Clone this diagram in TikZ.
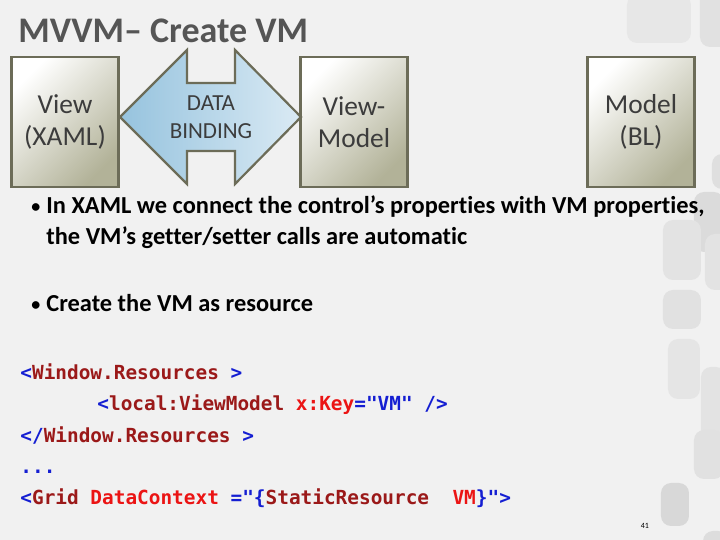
\documentclass[tikz,border=0pt]{standalone}
\usepackage{fontspec}
\setmainfont{Carlito}[RawFeature={-liga}]
\newfontfamily\codefont{DejaVu Sans Mono}

\definecolor{pagebg}{RGB}{241,241,241}
\definecolor{tilegray}{RGB}{200,200,200}
\definecolor{titlegray}{RGB}{85,85,85}
\definecolor{boxedge}{RGB}{108,108,88}
\definecolor{boxfill}{RGB}{178,178,152}
\definecolor{boxtext}{RGB}{60,60,60}
\definecolor{arrowleft}{RGB}{150,195,222}
\definecolor{arrowright}{RGB}{218,234,244}
\definecolor{codeblue}{RGB}{20,30,210}
\definecolor{codebrown}{RGB}{155,25,25}
\definecolor{codered}{RGB}{235,20,20}

\newcommand\xmlpunct[1]{\textcolor{codeblue}{#1}}
\newcommand\xmlelem[1]{\textcolor{codebrown}{#1}}
\newcommand\xmlattr[1]{\textcolor{codered}{#1}}

\begin{document}
\begin{tikzpicture}[x=0.5pt, y=-0.5pt,
  layerbox/.style={draw=boxedge, line width=1.1pt, minimum width=53.5pt, minimum height=65pt,
    align=center, text=boxtext, font=\fontsize{13.7}{16}\selectfont,
    top color=white, bottom color=boxfill, shading angle=45},
  bindarrow/.style={draw=boxedge, line width=1.1pt, left color=arrowleft, right color=arrowright},
  bullettext/.style={anchor=base west, inner sep=0pt, font=\fontsize{12.2}{14}\bfseries},
  bulletdot/.style={anchor=base west, inner sep=0pt, font=\fontsize{9}{10}\bfseries},
  codeline/.style={anchor=base west, inner sep=0pt, font=\fontsize{9.7}{12}\codefont\bfseries}]
\useasboundingbox (0,0) rectangle (720,540);
\fill[pagebg] (0,0) rectangle (720,540);
% tiles down the right edge
\foreach \tx/\ty/\tw/\th/\tg in {700/-10/30/57/40, 627/-5/64/48/25, 712/154/20/35/45,
    694/192/30/60/55, 663/220/38/60/35, 705/234/25/56/35, 663/290/38/39/40,
    668/339/32/60/30, 701/367/25/73/35, 694/430/30/49/40, 661/483/28/43/60, 703/531/25/20/50}
  \fill[tilegray!\tg!pagebg, rounded corners=5pt] (\tx,\ty) rectangle ++(\tw,\th);

% title
\node[anchor=base west, inner sep=0pt, text=titlegray, font=\fontsize{18}{20}\bfseries] (title) at (18,43) {MVVM– Create VM};

% layers
\node[layerbox] (view) at (65,122) {View\\(XAML)};
\node[layerbox] (viewmodel) at (354,122) {View-\\Model};
\node[layerbox] (model) at (641,122) {Model\\(BL)};

% data binding arrow
\draw[bindarrow] (120,117) -- (187,50) -- (187,83) -- (235,83) -- (235,50) -- (301,117)
  -- (235,184) -- (235,151) -- (187,151) -- (187,184) -- cycle;
\node[align=center, text=boxtext, font=\fontsize{11.5}{14}\selectfont] (binding) at (211,117) {DATA\\BINDING};

% bullets
\node[bulletdot] (dot1) at (31,213) {•};
\node[bullettext] (point1) at (46,214) {In XAML we connect the control’s properties with VM properties,};
\node[bullettext] (point1b) at (46,245) {the VM’s getter/setter calls are automatic};
\node[bulletdot] (dot2) at (31,311) {•};
\node[bullettext] (point2) at (46,312) {Create the VM as resource};

% xaml snippet
\node[codeline] (code1) at (20,380) {\xmlpunct{<}\xmlelem{Window.Resources}\xmlpunct{\ >}};
\node[codeline] (code2) at (97,411) {\xmlpunct{<}\xmlelem{local:ViewModel}\ \xmlattr{x:Key}\xmlpunct{="VM"\ />}};
\node[codeline] (code3) at (20,443) {\xmlpunct{</}\xmlelem{Window.Resources}\xmlpunct{\ >}};
\node[codeline] (code4) at (20,474) {\xmlpunct{...}};
\node[codeline] (code5) at (20,505) {\xmlpunct{<}\xmlelem{Grid}\ \xmlattr{DataContext}\xmlpunct{\ ="\{}\xmlelem{StaticResource}\ \ \xmlattr{VM}\xmlpunct{\}">}};

\node[font=\fontsize{4}{5}\selectfont] (page) at (645,526) {41};
\end{tikzpicture}
\end{document}
